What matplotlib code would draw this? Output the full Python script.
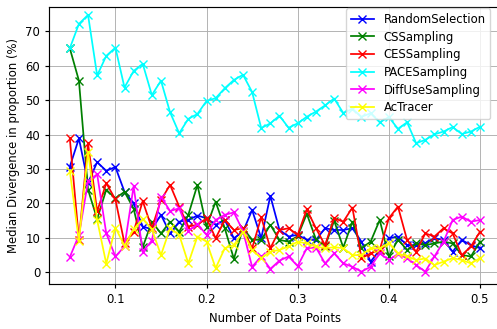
import numpy as np
import matplotlib
matplotlib.use("Agg")
import matplotlib.pyplot as plt

x = [round(0.05 + 0.01 * i, 2) for i in range(46)]

random_sel = [30.7, 38.9, 26.0, 32.0, 29.5, 30.6, 23.4, 20.0, 13.3, 12.5,
              16.7, 11.3, 14.7, 15.2, 16.5, 15.7, 13.8, 15.2, 9.9, 11.8,
              18.1, 9.9, 22.2, 12.3, 10.4, 10.9, 9.4, 9.4, 12.8, 12.3,
              12.3, 12.8, 8.9, 3.1, 6.5, 9.9, 10.4, 7.9, 7.9, 8.5,
              9.9, 9.4, 6.0, 9.4, 7.9, 7.0]
cs_sampling = [65.1, 55.7, 24.0, 15.5, 24.0, 21.5, 23.4, 18.5, 7.3, 14.7,
               11.3, 14.7, 11.8, 16.7, 25.4, 13.3, 20.5, 12.8, 3.9, 12.8,
               9.5, 9.4, 13.8, 9.4, 8.9, 10.5, 17.0, 9.6, 7.5, 15.0,
               7.2, 14.7, 7.0, 8.9, 15.2, 4.6, 9.5, 6.5, 8.4, 7.9,
               8.4, 8.9, 8.4, 5.0, 4.6, 8.9]
ces_sampling = [38.9, 9.5, 37.5, 17.7, 25.9, 21.2, 8.4, 11.8, 20.7, 12.8,
                21.0, 25.4, 19.1, 13.3, 13.8, 15.7, 9.9, 15.2, 12.3, 12.8,
                7.0, 16.0, 7.0, 12.3, 12.8, 10.9, 18.3, 12.8, 7.9, 15.7,
                14.7, 18.8, 4.1, 5.5, 6.5, 15.7, 19.1, 9.4, 6.0, 11.3,
                10.4, 12.8, 11.3, 5.0, 7.5, 11.8]
pace_sampling = [65.1, 72.2, 74.8, 57.2, 62.9, 65.3, 53.7, 58.5, 60.6, 51.5,
                 55.7, 46.5, 40.4, 44.6, 46.0, 49.8, 50.6, 53.5, 55.9, 57.4,
                 52.4, 41.9, 43.3, 45.5, 42.0, 43.3, 45.2, 46.7, 48.5, 50.5,
                 46.3, 47.5, 45.2, 46.2, 43.6, 45.1, 41.7, 43.6, 37.5, 38.5,
                 40.1, 40.9, 42.2, 40.2, 40.9, 42.3]
diffuse_sampling = [4.4, 10.8, 26.4, 28.5, 11.3, 4.6, 7.5, 25.0, 6.0, 9.2,
                    22.0, 17.8, 18.6, 12.0, 14.0, 10.9, 15.2, 16.7, 17.4, 12.0,
                    1.6, 4.6, 1.0, 3.4, 4.6, 1.8, 7.0, 7.2, 2.6, 5.5,
                    2.6, 1.6, 0.2, 1.6, 5.5, 3.6, 5.3, 4.1, 2.1, 0.2,
                    4.6, 8.9, 15.2, 16.2, 14.7, 15.2]
actracer = [29.5, 9.0, 35.0, 15.2, 2.5, 13.0, 7.7, 12.5, 15.5, 12.5,
            5.0, 12.8, 10.9, 2.6, 10.4, 8.9, 1.2, 7.0, 7.9, 11.8,
            6.5, 4.1, 6.0, 6.5, 7.5, 8.9, 8.4, 7.5, 7.0, 7.3,
            7.0, 5.0, 5.0, 7.0, 7.0, 8.4, 5.5, 4.6, 3.6, 4.0,
            2.1, 3.1, 4.1, 3.6, 2.6, 4.1]

series = [
    ("RandomSelection", random_sel, "blue"),
    ("CSSampling", cs_sampling, "green"),
    ("CESSampling", ces_sampling, "red"),
    ("PACESampling", pace_sampling, "cyan"),
    ("DiffUseSampling", diffuse_sampling, "magenta"),
    ("AcTracer", actracer, "yellow"),
]

fs = 8.4
plt.rcParams['font.family'] = ['DejaVu Sans']
fig = plt.figure(figsize=(4.97, 3.29), dpi=100)
left_px, right_px, top_px, bot_px = 49.3, 500.5, 7.0, 284.0
ax = fig.add_axes([left_px / 497, 1 - bot_px / 329,
                   (right_px - left_px) / 497, (bot_px - top_px) / 329])

for name, vals, col in series:
    ax.plot(x, vals, color=col, marker='x', linewidth=1.26, markersize=5.5,
            markeredgewidth=1.0, label=name)

ax.grid(True, linewidth=0.8 * 0.84, color='#b0b0b0')
ax.set_xlabel("Number of Data Points", fontsize=fs)
ax.set_ylabel("Median Divergence in proportion (%)", fontsize=fs)
ax.tick_params(labelsize=fs, width=0.84, length=3)
for s in ax.spines.values():
    s.set_linewidth(0.84)
ax.set_xticks([0.1, 0.2, 0.3, 0.4, 0.5])
ax.set_yticks([0, 10, 20, 30, 40, 50, 60, 70])
ax.set_xlim(0.0275, 0.5225)
ax.set_ylim(-3.4, 77.1)
ax.legend(loc='upper right', fontsize=fs, labelspacing=0.4, borderaxespad=0.1,
          bbox_to_anchor=(491.4 / 497, 1 - 7 / 329), bbox_transform=fig.transFigure)

fig.savefig("out.png", dpi=100)
